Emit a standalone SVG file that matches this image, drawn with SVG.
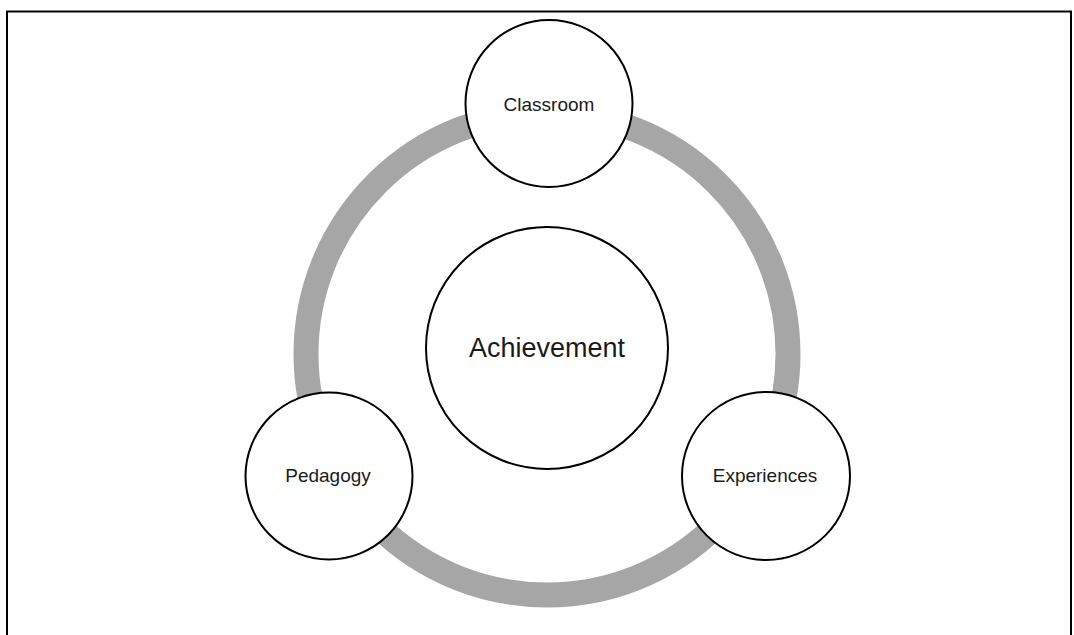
<svg xmlns="http://www.w3.org/2000/svg" width="1074" height="635" viewBox="0 0 1074 635">
  <style>
    .node { fill: #ffffff; stroke: #000000; stroke-width: 2; }
    .label { font-family: "Liberation Sans", Arial, sans-serif; fill: #1a1a1a; text-anchor: middle; }
    .small { font-size: 19px; }
    .big { font-size: 27px; }
  </style>
  <rect x="0" y="0" width="1074" height="635" fill="#ffffff"/>
  <path d="M7,640 V11.5 H1071 V640" fill="none" stroke="#000000" stroke-width="2"/>
  <g id="connectors">
    <circle cx="547" cy="354" r="241" fill="none" stroke="#a6a6a6" stroke-width="25"/>
  </g>
  <g id="achievement">
    <circle class="node" cx="547" cy="348" r="121"/>
    <text class="label big" x="547" y="357">Achievement</text>
  </g>
  <g id="classroom">
    <circle class="node" cx="549" cy="103.5" r="83.5"/>
    <text class="label small" x="549" y="111">Classroom</text>
  </g>
  <g id="pedagogy">
    <circle class="node" cx="329" cy="476" r="83.5"/>
    <text class="label small" x="328" y="482">Pedagogy</text>
  </g>
  <g id="experiences">
    <circle class="node" cx="766" cy="476" r="84"/>
    <text class="label small" x="765" y="482">Experiences</text>
  </g>
</svg>
